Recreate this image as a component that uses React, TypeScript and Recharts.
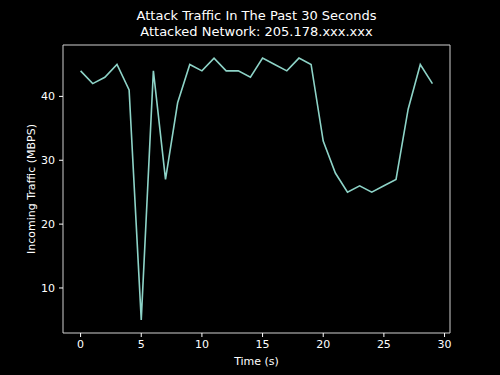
import { LineChart, Line, XAxis, YAxis, ReferenceArea } from 'recharts'

// seconds since start and incoming traffic per second
const seconds = [0, 1, 2, 3, 4, 5, 6, 7, 8, 9, 10, 11, 12, 13, 14, 15, 16, 17, 18, 19, 20, 21, 22, 23, 24, 25, 26, 27, 28, 29]
const traffic = [44, 42, 43, 45, 41, 5, 44, 27, 39, 45, 44, 46, 44, 44, 43, 46, 45, 44, 46, 45, 33, 28, 25, 26, 25, 26, 27, 38, 45, 42]
const xTicks = [0, 5, 10, 15, 20, 25, 30]
const yTicks = [10, 20, 30, 40]

const data = seconds.map((t, i) => ({ t, mbps: traffic[i] }))

const font = '"DejaVu Sans", sans-serif'
const fg = '#ffffff'

export default function App() {
  return (
    <div style={{ position: 'fixed', top: 0, left: 0, width: 500, height: 375, background: '#000', fontFamily: font }}>
      <div style={{ position: 'absolute', top: 8, left: 63, width: 387, textAlign: 'center', color: fg, fontSize: 13, lineHeight: '16px' }}>
        Attack Traffic In The Past 30 Seconds
        <br />
        Attacked Network: 205.178.xxx.xxx
      </div>
      <div style={{ position: 'absolute', left: 31, top: 189, width: 0, height: 0 }}>
        <div style={{ position: 'absolute', transform: 'translate(-50%, -50%) rotate(-90deg)', whiteSpace: 'nowrap', color: fg, fontSize: 11 }}>
          Incoming Traffic (MBPS)
        </div>
      </div>
      <div style={{ position: 'absolute', top: 355, left: 63, width: 387, textAlign: 'center', color: fg, fontSize: 11 }}>
        Time (s)
      </div>
      <LineChart width={500} height={375} data={data} margin={{ top: 45, right: 50, bottom: 17, left: 23 }}>
        <XAxis
          dataKey="t"
          type="number"
          domain={[-1.45, 30.45]}
          ticks={xTicks}
          allowDataOverflow
          height={25}
          tickSize={4}
          tickMargin={3}
          axisLine={false}
          tickLine={{ stroke: fg }}
          tick={{ fill: fg, fontSize: 11, fontFamily: font }}
          interval={0}
        />
        <YAxis
          type="number"
          domain={[2.95, 48.05]}
          ticks={yTicks}
          allowDataOverflow
          width={40}
          tickSize={4}
          tickMargin={4}
          axisLine={false}
          tickLine={{ stroke: fg }}
          tick={{ fill: fg, fontSize: 11, fontFamily: font }}
          interval={0}
        />
        <ReferenceArea x1={-1.45} x2={30.45} y1={2.95} y2={48.05} fill="none" stroke="#d0d0d0" strokeWidth={1} ifOverflow="visible" />
        <Line type="linear" dataKey="mbps" stroke="#8dd3c7" strokeWidth={1.6} dot={false} isAnimationActive={false} />
      </LineChart>
    </div>
  )
}
